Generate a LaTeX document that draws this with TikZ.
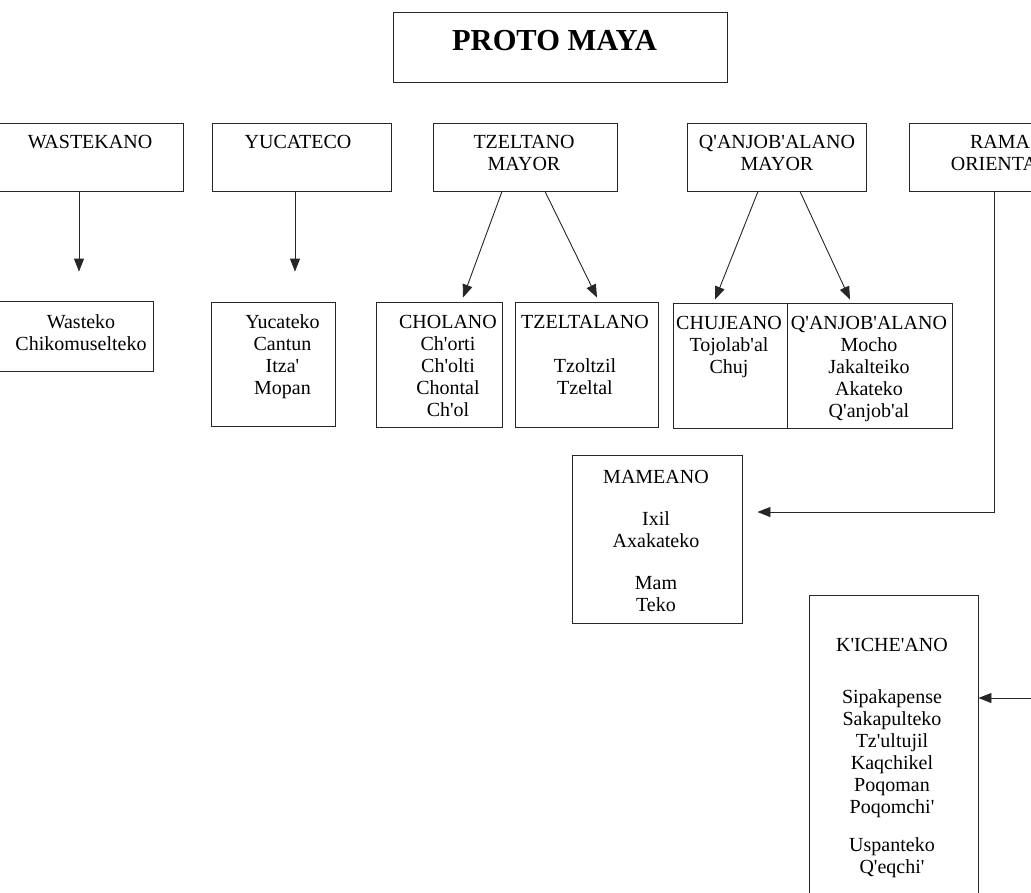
\documentclass[tikz,border=0pt]{standalone}
\usepackage{fontspec}
\setmainfont{Liberation Serif}
\usetikzlibrary{arrows.meta}
\newcommand{\ap}{\textquotesingle}

\begin{document}
\begin{tikzpicture}[x=1pt,y=-1pt,>={Triangle[length=13pt,width=10pt]},
	box/.style={draw=black!85,line width=0.9pt,inner sep=0pt},
	txt/.style={anchor=north,align=center,inner sep=0pt,font=\fontsize{20}{22}\selectfont},
	link/.style={draw=black!85,line width=0.9pt}]
	\useasboundingbox (0,0) rectangle (1031,892);
	\clip (0,0) rectangle (1031,892);
	% root
	\node[box,minimum width=334pt,minimum height=70pt] (proto) at (560,47) {};
	\node[txt,font=\fontsize{30.5}{34}\selectfont\bfseries] (proto-t) at (554.5,30) {PROTO MAYA};
	% branches
	\node[box,minimum width=187pt,minimum height=68pt] (wastekano) at (89.5,157) {};
	\node[box,minimum width=179pt,minimum height=68pt] (yucateco) at (301.5,157) {};
	\node[box,minimum width=184pt,minimum height=68pt] (tzeltano) at (525,157) {};
	\node[box,minimum width=179pt,minimum height=68pt] (qanjobmayor) at (776.5,157) {};
	\node[box,minimum width=170pt,minimum height=68pt] (rama) at (994,157) {};
	\node[txt] (wastekano-t) at (90,135) {WASTEKANO};
	\node[txt] (yucateco-t) at (298,135) {YUCATECO};
	\node[txt] (tzeltano-t) at (524,135.5) {TZELTANO\\MAYOR};
	\node[txt] (qanjobmayor-t) at (777,135.5) {Q\ap ANJOB\ap ALANO\\MAYOR};
	\node[txt] (rama-t) at (1000,135.5) {RAMA\\ORIENTAL};
	% groups
	\node[box,minimum width=158pt,minimum height=70pt] (wasteko) at (74,336) {};
	\node[box,minimum width=124pt,minimum height=124pt] (yucateko) at (273,364) {};
	\node[box,minimum width=126pt,minimum height=125pt] (cholano) at (439,364.5) {};
	\node[box,minimum width=143pt,minimum height=125pt] (tzeltalano) at (586.5,364.5) {};
	\node[box,minimum width=114pt,minimum height=125pt] (chujeano) at (730,365.5) {};
	\node[box,minimum width=165pt,minimum height=125pt] (qanjobalano) at (869.5,365.5) {};
	\node[box,minimum width=170pt,minimum height=168pt] (mameano) at (657,539) {};
	\node[box,minimum width=169pt,minimum height=310pt] (kicheano) at (893.5,750) {};
	\node[txt] (wasteko-t) at (81,314) {Wasteko\\Chikomuselteko};
	\node[txt] (yucateko-t) at (282.5,314.5) {Yucateko\\Cantun\\Itza\ap\\Mopan};
	\node[txt] (cholano-t) at (448,315) {CHOLANO\\Ch\ap orti\\Ch\ap olti\\Chontal\\Ch\ap ol};
	\node[txt] (tzeltalano-t) at (585,315) {TZELTALANO\\[22pt]Tzoltzil\\Tzeltal};
	\node[txt] (chujeano-t) at (729,316) {CHUJEANO\\Tojolab\ap al\\Chuj};
	\node[txt] (qanjobalano-t) at (869,316) {Q\ap ANJOB\ap ALANO\\Mocho\\Jakalteiko\\Akateko\\Q\ap anjob\ap al};
	\node[txt] (mameano-t) at (656,470) {MAMEANO\\[20pt]Ixil\\Axakateko\\[20pt]Mam\\Teko};
	\node[txt] (kicheano-t) at (892,638) {K\ap ICHE\ap ANO\\[30pt]Sipakapense\\Sakapulteko\\Tz\ap ultujil\\Kaqchikel\\Poqoman\\Poqomchi\ap\\[16pt]Uspanteko\\Q\ap eqchi\ap};
	% arrows
	\draw[link,->] ([xshift=-10.5pt]wastekano.south) -- ([xshift=5pt,yshift=29pt]wasteko.north);
	\draw[link,->] ([xshift=-6.5pt]yucateco.south) -- ([xshift=22pt,yshift=30pt]yucateko.north);
	\draw[link,->] ([xshift=-23pt]tzeltano.south) -- ([xshift=24pt,yshift=4pt]cholano.north);
	\draw[link,->] ([xshift=20pt]tzeltano.south) -- ([xshift=10.5pt,yshift=4pt]tzeltalano.north);
	\draw[link,->] ([xshift=-18.5pt]qanjobmayor.south) -- ([xshift=-15pt,yshift=3pt]chujeano.north);
	\draw[link,->] ([xshift=23.5pt]qanjobmayor.south) -- ([xshift=-19.5pt,yshift=3pt]qanjobalano.north);
	\draw[link,->] (rama.south) |- ([xshift=15pt,yshift=27pt]mameano.east);
	\coordinate (kiche-in) at (1040,698);
	\draw[link,->] (kiche-in) -- (kiche-in -| kicheano.east);
\end{tikzpicture}
\end{document}
